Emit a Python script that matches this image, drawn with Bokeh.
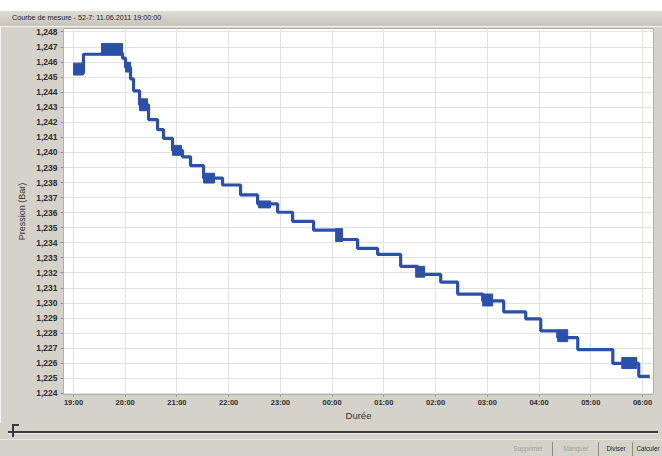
from bokeh.plotting import figure
from bokeh.layouts import column
from bokeh.models import Range1d, FixedTicker, Div
from bokeh.embed import file_html
from bokeh.resources import INLINE

# ---- data ----
hours = [0, 1, 2, 3, 4, 5, 6, 7, 8, 9, 10, 11]
x_tick_labels = ["19:00", "20:00", "21:00", "22:00", "23:00", "00:00",
                 "01:00", "02:00", "03:00", "04:00", "05:00", "06:00"]
y_ticks = [1.224, 1.225, 1.226, 1.227, 1.228, 1.229, 1.230, 1.231, 1.232,
           1.233, 1.234, 1.235, 1.236, 1.237, 1.238, 1.239, 1.240, 1.241,
           1.242, 1.243, 1.244, 1.245, 1.246, 1.247, 1.248]
y_tick_labels = ["1,224", "1,225", "1,226", "1,227", "1,228", "1,229", "1,230",
                 "1,231", "1,232", "1,233", "1,234", "1,235", "1,236", "1,237",
                 "1,238", "1,239", "1,240", "1,241", "1,242", "1,243", "1,244",
                 "1,245", "1,246", "1,247", "1,248"]

# step levels: start time (hours after 19:00) and pressure (bar)
step_t = [0.000, 0.193, 0.542, 0.948, 1.006, 1.103, 1.161, 1.277, 1.451, 1.625,
          1.741, 1.915, 2.108, 2.263, 2.515, 2.882, 3.230, 3.559, 3.946, 4.236,
          4.642, 5.106, 5.493, 5.880, 6.325, 6.654, 7.099, 7.427, 7.911, 8.317,
          8.743, 9.033, 9.362, 9.749, 10.426, 10.928, 11.141]
step_v = [1.24527, 1.24652, 1.24659, 1.24626, 1.24566, 1.24488, 1.24409, 1.24316,
          1.24218, 1.24152, 1.24093, 1.24014, 1.23971, 1.23912, 1.23830, 1.23784,
          1.23718, 1.23659, 1.23603, 1.23543, 1.23484, 1.23422, 1.23363, 1.23323,
          1.23244, 1.23191, 1.23139, 1.23060, 1.23014, 1.22941, 1.22895, 1.22816,
          1.22770, 1.22691, 1.22599, 1.22514]

# dense jitter blocks (signal flickering between two levels)
block_t0 = [0.000, 0.542, 1.006, 1.277, 1.915, 2.515, 3.578, 5.068, 6.615, 7.911, 9.362, 10.600]
block_t1 = [0.193, 0.948, 1.103, 1.431, 2.089, 2.727, 3.810, 5.203, 6.789, 8.104, 9.555, 10.890]
block_hi = [1.24593, 1.24724, 1.24599, 1.24356, 1.24047, 1.23862, 1.23678, 1.23494,
            1.23244, 1.23060, 1.22823, 1.22639]
block_lo = [1.24514, 1.24645, 1.24534, 1.24277, 1.23981, 1.23797, 1.23632, 1.23409,
            1.23172, 1.22981, 1.22744, 1.22566]

title_text = "Courbe de mesure - 52-7: 11.06.2011 19:00:00"
x_label = "Durée"
y_label = "Pression (Bar)"
buttons = ["Supprimer", "Manquer", "Diviser", "Calculer"]
button_enabled = [False, False, True, True]

# ---- styling constants ----
W = 662
BG = "#d5d2ca"
BLUE = "#2b50aa"
FONT = "Liberation Sans"

# ---- title bar ----
top_html = (
    f'<div style="position:relative;width:{W}px;height:26px;background:#ffffff;'
    f'font-family:\'{FONT}\';overflow:hidden;">'
    f'<div style="position:absolute;left:0;top:11px;width:{W}px;height:15px;'
    f'background:linear-gradient(#e0ddd6,#c6c3bb);"></div>'
    f'<span style="position:absolute;left:12px;top:13px;font-size:7.2px;'
    f'line-height:10px;color:#222222;white-space:nowrap;">{title_text}</span>'
    f'</div>'
)
top = Div(text=top_html, width=W, height=26, styles={"margin": "0", "padding": "0"})

# ---- main chart ----
p = figure(width=W, height=397, output_backend="svg", toolbar_location=None,
           x_range=Range1d(-0.193, 11.213), y_range=Range1d(1.22393, 1.24823),
           min_border_left=63, min_border_right=9, min_border_top=2,
           min_border_bottom=26)
p.background_fill_color = "white"
p.border_fill_color = BG
p.outline_line_color = "#b0b0b0"

p.xaxis.ticker = FixedTicker(ticks=hours)
p.xaxis.major_label_overrides = dict(zip(hours, x_tick_labels))
p.yaxis.ticker = FixedTicker(ticks=y_ticks)
p.yaxis.major_label_overrides = dict(zip(y_ticks, y_tick_labels))

for ax in (p.xaxis[0], p.yaxis[0]):
    ax.axis_line_color = None
    ax.major_tick_line_color = "#909090"
    ax.major_tick_in = 0
    ax.minor_tick_line_color = None
    ax.major_label_text_font = FONT
    ax.major_label_text_font_style = "bold"
    ax.major_label_text_color = "#2e2e2e"
    ax.axis_label_text_font = FONT
    ax.axis_label_text_font_style = "normal"
    ax.axis_label_text_color = "#333333"

p.yaxis.major_tick_out = 3
p.yaxis.major_label_text_font_size = "8.5px"
p.yaxis.major_label_standoff = 3
p.yaxis.axis_label = y_label
p.yaxis.axis_label_text_font_size = "9px"
p.yaxis.axis_label_standoff = 6

p.xaxis.major_tick_out = 2
p.xaxis.major_label_text_font_size = "7.5px"
p.xaxis.major_label_standoff = 1
p.xaxis.axis_label = x_label
p.xaxis.axis_label_text_font_size = "9.5px"
p.xaxis.axis_label_standoff = 0

p.xgrid.ticker = FixedTicker(ticks=hours)
p.ygrid.ticker = FixedTicker(ticks=y_ticks)
p.grid.grid_line_color = "#e2e2e2"
p.grid.grid_line_width = 1

p.quad(left=block_t0, right=block_t1, top=block_hi, bottom=block_lo,
       fill_color=BLUE, line_color=BLUE, line_width=1)
p.step(x=step_t, y=step_v + [step_v[-1]], mode="after", line_width=3.2,
       line_color=BLUE)

# ---- slider and buttons ----
btn_left = [504, 554, 600, 634]
btn_right = [553, 599, 633, 662]
parts = [
    f'<div style="position:relative;width:{W}px;height:33px;background:{BG};'
    f'font-family:\'{FONT}\';overflow:hidden;">',
    # slider track
    '<div style="position:absolute;left:8px;top:8px;width:650px;height:2px;'
    'background:#3a3a3a;"></div>',
    '<div style="position:absolute;left:8px;top:10px;width:650px;height:1px;'
    'background:#f0efea;"></div>',
    # slider thumb
    '<div style="position:absolute;left:12px;top:1px;width:2px;height:13px;'
    'background:#3a3a3a;"></div>',
    '<div style="position:absolute;left:12px;top:1px;width:7px;height:2px;'
    'background:#3a3a3a;"></div>',
    # separator
    f'<div style="position:absolute;left:0;top:16px;width:{W}px;height:1px;'
    'background:#e9e7e1;"></div>',
]
for i, (l, r, name, en) in enumerate(zip(btn_left, btn_right, buttons, button_enabled)):
    col = "#222222" if en else "#a3a19b"
    border = "border-right:1px solid #8d8b85;" if i < len(buttons) - 1 else ""
    parts.append(
        f'<div style="position:absolute;left:{l}px;top:19px;width:{r - l}px;'
        f'height:14px;{border}box-sizing:border-box;'
        f'text-align:center;font-size:6.3px;line-height:14px;color:{col};'
        f'white-space:nowrap;">{name}</div>')
parts.append('</div>')
bot = Div(text="".join(parts), width=W, height=33, styles={"margin": "0", "padding": "0"})

layout = column(top, p, bot, spacing=0)
open("out.html", "w").write(file_html(layout, INLINE))
